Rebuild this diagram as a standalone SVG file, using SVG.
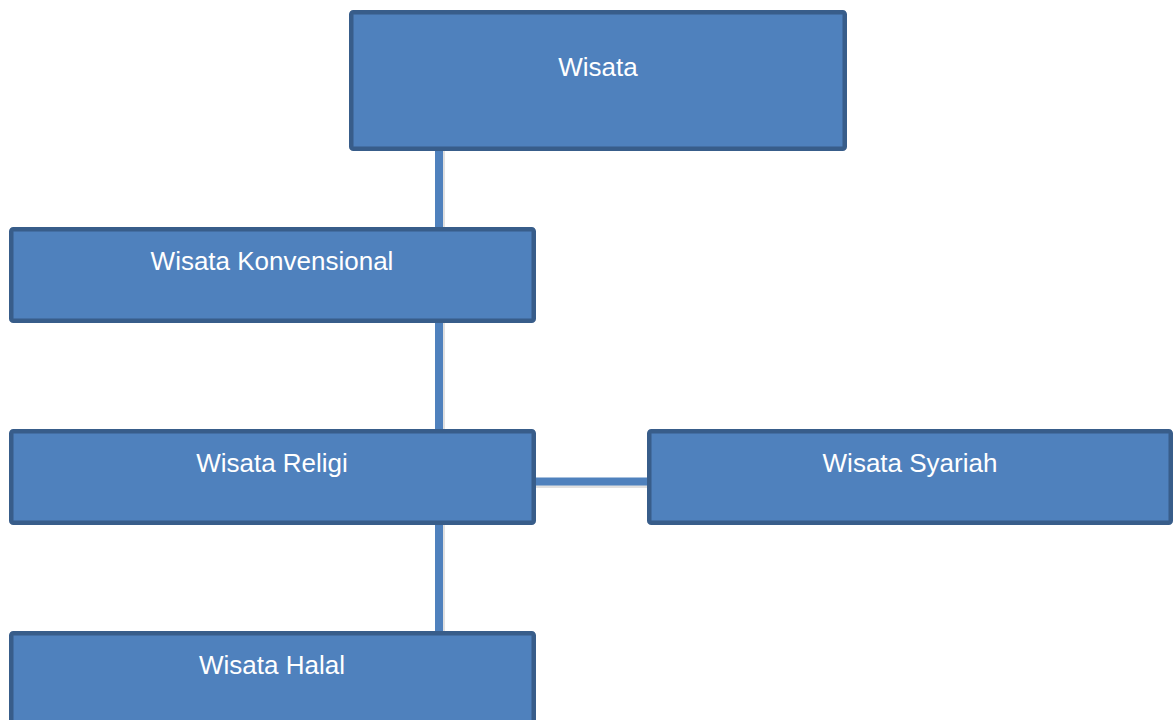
<svg xmlns="http://www.w3.org/2000/svg" width="1175" height="720" viewBox="0 0 1175 720">
<style>
.box{fill:#4F81BD;stroke:#385D8A;stroke-width:4.5}
.lbl{font-family:"Liberation Sans",Arial,sans-serif;font-size:26px;fill:#FFFFFF;text-anchor:middle}
.conn{stroke:#4F81BD;stroke-width:8;fill:none}
.shadow{stroke:#000;stroke-opacity:0.12;stroke-width:8;fill:none}
</style>
<rect width="1175" height="720" fill="#FFFFFF"/>
<g id="connectors">
<line class="shadow" x1="441" y1="151" x2="441" y2="227"/>
<line class="shadow" x1="441" y1="323" x2="441" y2="429"/>
<line class="shadow" x1="441" y1="525" x2="441" y2="631"/>
<line class="shadow" x1="536" y1="484" x2="647" y2="484"/>
<line class="conn" x1="439" y1="151" x2="439" y2="227"/>
<line class="conn" x1="439" y1="323" x2="439" y2="429"/>
<line class="conn" x1="439" y1="525" x2="439" y2="631"/>
<line class="conn" x1="536" y1="481.5" x2="647" y2="481.5"/>
</g>
<g id="wisata">
<rect class="box" x="351.25" y="12.25" width="493.5" height="136.5" rx="2"/>
<text class="lbl" x="598" y="76">Wisata</text>
</g>
<g id="konvensional">
<rect class="box" x="11.25" y="229.25" width="522.5" height="91.5" rx="2"/>
<text class="lbl" x="272" y="270">Wisata Konvensional</text>
</g>
<g id="religi">
<rect class="box" x="11.25" y="431.25" width="522.5" height="91.5" rx="2"/>
<text class="lbl" x="272" y="472">Wisata Religi</text>
</g>
<g id="syariah">
<rect class="box" x="649.25" y="431.25" width="521.5" height="91.5" rx="2"/>
<text class="lbl" x="910" y="472">Wisata Syariah</text>
</g>
<g id="halal">
<rect class="box" x="11.25" y="633.25" width="522.5" height="110" rx="2"/>
<text class="lbl" x="272" y="674">Wisata Halal</text>
</g>
</svg>
